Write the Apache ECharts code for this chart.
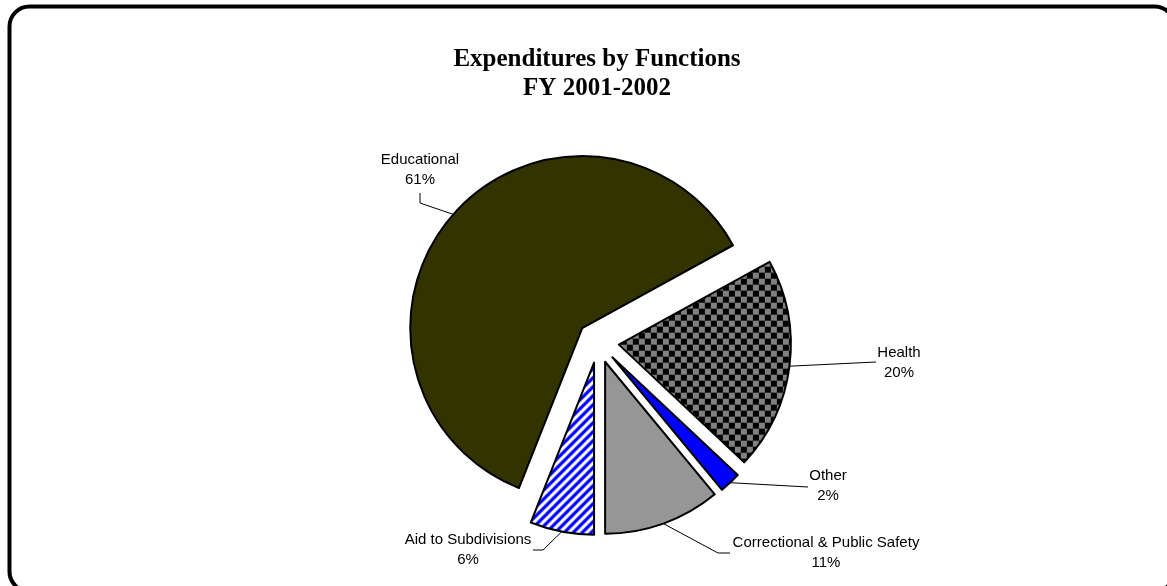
<!DOCTYPE html>
<html>
<head>
<meta charset="utf-8">
<script src="https://cdn.jsdelivr.net/npm/echarts@6/dist/echarts.min.js"></script>
<style>
  html, body { margin: 0; padding: 0; background: #fff; }
  #chart { width: 1167px; height: 586px; }
</style>
</head>
<body>
<div id="chart"></div>
<script>
// Expenditures by function, FY 2001-2002 (percent of total), listed clockwise from Health
var categories = ['Health', 'Other', 'Correctional & Public Safety', 'Aid to Subdivisions', 'Educational'];
var shares = [20, 2, 11, 6, 61];

var titleLines = ['Expenditures by Functions', 'FY 2001-2002'];

// Pie geometry
var PIE_CENTER = [598, 342];
var PIE_RADIUS = 172;
var START_ANGLE = 28.8;      // degrees, counter-clockwise from 3 o'clock
var EXPLODE = 21;            // every slice is pulled out by this many pixels

// Fill patterns
function checkerPattern() {
  var c = document.createElement('canvas');
  c.width = 12; c.height = 12;
  var g = c.getContext('2d');
  g.fillStyle = '#808080';
  g.fillRect(0, 0, 12, 12);
  g.fillStyle = '#000000';
  g.fillRect(0, 0, 6, 6);
  g.fillRect(6, 6, 6, 6);
  return c;
}
function stripePattern() {
  var s = 9;
  var c = document.createElement('canvas');
  c.width = s; c.height = s;
  var g = c.getContext('2d');
  g.fillStyle = '#ffffff';
  g.fillRect(0, 0, s, s);
  g.strokeStyle = '#0000ff';
  g.lineWidth = 3.2;
  g.beginPath();
  g.moveTo(-s / 2, s / 2); g.lineTo(s / 2, -s / 2);
  g.moveTo(0, s); g.lineTo(s, 0);
  g.moveTo(s / 2, s * 1.5); g.lineTo(s * 1.5, s / 2);
  g.stroke();
  return c;
}

var fills = {
  'Health': { image: checkerPattern(), repeat: 'repeat' },
  'Other': '#0000ff',
  'Correctional & Public Safety': '#969696',
  'Aid to Subdivisions': { image: stripePattern(), repeat: 'repeat' },
  'Educational': '#333300'
};

// Label placement on the page: text centre and leader-line bend points
var labelPlaces = {
  'Health':                       { x: 899, y: 363, bend: [[876, 362]] },
  'Other':                        { x: 828, y: 486, bend: [[808, 487]] },
  'Correctional & Public Safety': { x: 826, y: 553, bend: [[718, 553], [730, 553]] },
  'Aid to Subdivisions':          { x: 468, y: 550, bend: [[543, 550], [533, 550]] },
  'Educational':                  { x: 420, y: 170, bend: [[420, 203], [420, 193]] }
};

// Direction each slice is pulled out along (screen coordinates)
var total = shares.reduce(function (a, b) { return a + b; }, 0);
var explodeShift = [];
(function () {
  var acc = 0;
  for (var i = 0; i < shares.length; i++) {
    var mid = (START_ANGLE - (acc + shares[i] / 2) / total * 360) * Math.PI / 180;
    explodeShift.push([EXPLODE * Math.cos(mid), -EXPLODE * Math.sin(mid)]);
    acc += shares[i];
  }
})();

var pieData = categories.map(function (name, i) {
  return {
    name: name,
    value: shares[i],
    selected: true,
    itemStyle: { color: fills[name] }
  };
});

var labelFont = { fontFamily: 'Liberation Sans', fontSize: 15, lineHeight: 20, color: '#000', align: 'center' };

var chart = echarts.init(document.getElementById('chart'), null, { renderer: 'canvas' });

chart.setOption({
  animation: false,
  backgroundColor: '#ffffff',
  title: {
    text: titleLines.join('\n'),
    left: 592,
    top: 40,
    textAlign: 'center',
    textStyle: {
      fontFamily: 'Liberation Serif',
      fontWeight: 'bold',
      fontSize: 25,
      lineHeight: 29,
      color: '#000'
    }
  },
  graphic: [{
    type: 'rect',
    shape: { x: 9.5, y: 6.5, width: 1165, height: 585, r: 20 },
    style: { fill: 'none', stroke: '#000', lineWidth: 4 },
    silent: true
  }],
  series: [{
    type: 'pie',
    center: PIE_CENTER,
    radius: PIE_RADIUS,
    startAngle: START_ANGLE,
    clockwise: true,
    selectedMode: 'multiple',
    selectedOffset: EXPLODE,
    percentPrecision: 0,
    avoidLabelOverlap: false,
    emphasis: { disabled: true },
    itemStyle: { borderColor: '#000', borderWidth: 2 },
    label: {
      show: true,
      position: 'outside',
      width: 240,
      formatter: '{t|{b}}\n{t|{d}%}',
      fontFamily: 'Liberation Sans',
      fontSize: 15,
      lineHeight: 20,
      color: '#000',
      rich: { t: labelFont }
    },
    labelLine: {
      show: true,
      lineStyle: { color: '#000', width: 1 }
    },
    labelLayout: function (p) {
      var i = p.dataIndex;
      var place = labelPlaces[categories[i]];
      var sh = explodeShift[i];
      // label and leader line live in the slice's own (un-shifted) frame
      var pts = [p.labelLinePoints[0]];
      place.bend.forEach(function (b) { pts.push([b[0] - sh[0], b[1] - sh[1]]); });
      if (pts.length < 3) pts.push(pts[pts.length - 1]);
      var r = p.labelRect;
      return {
        dx: place.x - sh[0] - (r.x + r.width / 2),
        dy: place.y - sh[1] - (r.y + r.height / 2),
        labelLinePoints: pts
      };
    },
    data: pieData
  }]
});
</script>
</body>
</html>
